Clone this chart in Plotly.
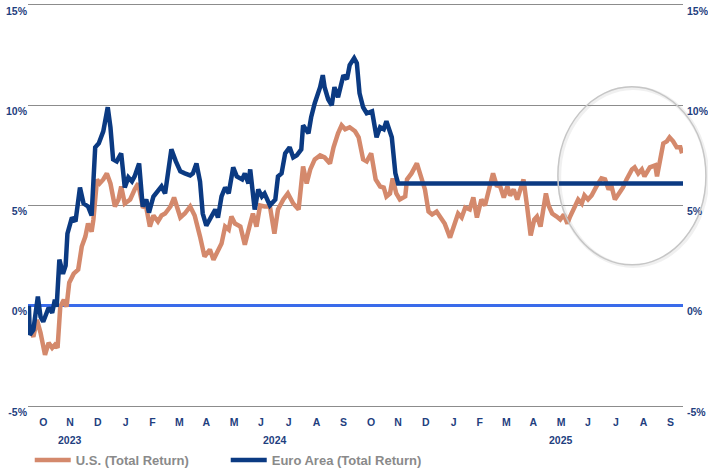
import plotly.graph_objects as go

# ---------------- data ----------------
euro_dates = ["2023-09-30","2023-10-01","2023-10-05","2023-10-10","2023-10-13","2023-10-16","2023-10-22","2023-10-26","2023-10-29","2023-10-31",
              "2023-11-03","2023-11-07","2023-11-10","2023-11-12","2023-11-17","2023-11-21","2023-11-26","2023-11-30","2023-12-05","2023-12-09",
              "2023-12-13","2023-12-17","2023-12-22","2023-12-27","2023-12-30","2024-01-02","2024-01-06","2024-01-11","2024-01-15","2024-01-19",
              "2024-01-23","2024-01-26","2024-01-31","2024-02-04","2024-02-08","2024-02-11","2024-02-16","2024-02-21","2024-02-25","2024-02-29",
              "2024-03-07","2024-03-12","2024-03-17","2024-03-22","2024-03-28","2024-03-31","2024-04-04","2024-04-08","2024-04-11","2024-04-15",
              "2024-04-21","2024-04-25","2024-04-28","2024-05-02","2024-05-06","2024-05-10","2024-05-15","2024-05-19","2024-05-25","2024-05-28",
              "2024-06-01","2024-06-03","2024-06-08","2024-06-12","2024-06-16","2024-06-19","2024-06-25","2024-07-01","2024-07-04","2024-07-08",
              "2024-07-12","2024-07-17","2024-07-21","2024-07-25","2024-07-30","2024-08-01","2024-08-07","2024-08-10","2024-08-14","2024-08-20",
              "2024-08-23","2024-08-25","2024-08-29","2024-09-02","2024-09-05","2024-09-09","2024-09-15","2024-09-19","2024-09-22","2024-09-27",
              "2024-09-30","2024-10-03","2024-10-07","2024-10-11","2024-10-17","2024-10-22","2024-10-26","2024-10-30","2024-11-02","2024-11-08",
              "2024-11-12","2024-11-15","2025-09-30"]
euro_values = [0.0,-1.45,-1.2,0.46,-0.55,-0.8,-0.1,-0.35,0.3,-0.05,
               2.3,1.6,2.0,3.6,4.4,4.2,5.9,5.1,4.95,4.5,
               7.9,8.1,8.7,9.9,8.9,7.3,7.2,7.6,5.9,6.4,
               6.2,6.45,7.1,4.95,5.3,4.65,5.45,5.7,5.95,5.6,
               7.8,7.2,6.7,6.6,6.5,6.6,7.1,6.2,4.6,4.0,
               4.45,4.8,4.4,5.45,5.9,5.6,6.9,6.45,6.3,6.6,
               6.1,6.8,4.8,5.8,5.45,5.6,5.0,5.3,6.45,6.6,
               7.6,7.9,7.4,7.5,7.8,9.0,8.6,9.4,10.1,10.9,
               11.5,10.9,10.3,10.0,10.9,10.4,11.5,11.3,12.0,12.35,
               12.1,10.6,9.9,9.6,9.7,8.4,8.9,8.8,9.2,8.4,
               6.6,6.1,6.1]

us_dates = ["2023-09-30","2023-10-05","2023-10-09","2023-10-13","2023-10-18","2023-10-22","2023-10-26","2023-10-29","2023-11-01","2023-11-04",
            "2023-11-08","2023-11-11","2023-11-14","2023-11-19","2023-11-24","2023-11-28","2023-12-02","2023-12-05","2023-12-09","2023-12-11",
            "2023-12-15","2023-12-18","2023-12-22","2023-12-26","2023-12-30","2024-01-04","2024-01-08","2024-01-11","2024-01-15","2024-01-21",
            "2024-01-26","2024-01-30","2024-02-04","2024-02-08","2024-02-12","2024-02-16","2024-02-21","2024-02-25","2024-02-29","2024-03-06",
            "2024-03-10","2024-03-17","2024-03-22","2024-03-28","2024-04-02","2024-04-06","2024-04-08","2024-04-13","2024-04-19","2024-04-23",
            "2024-04-28","2024-05-02","2024-05-06","2024-05-10","2024-05-13","2024-05-17","2024-05-23","2024-05-28","2024-06-03","2024-06-06",
            "2024-06-10","2024-06-14","2024-06-19","2024-06-25","2024-06-30","2024-07-04","2024-07-10","2024-07-15","2024-07-21","2024-07-27",
            "2024-08-01","2024-08-05","2024-08-09","2024-08-14","2024-08-20","2024-08-25","2024-08-31","2024-09-04","2024-09-09","2024-09-13",
            "2024-09-17","2024-09-22","2024-09-28","2024-10-02","2024-10-07","2024-10-11","2024-10-16","2024-10-21","2024-10-26","2024-10-30",
            "2024-11-02","2024-11-06","2024-11-09","2024-11-13","2024-11-17","2024-11-23","2024-11-25","2024-11-30","2024-12-06","2024-12-09",
            "2024-12-15","2024-12-19","2024-12-23","2024-12-28","2025-01-01","2025-01-06","2025-01-12","2025-01-16","2025-01-21","2025-01-25",
            "2025-01-29","2025-02-03","2025-02-07","2025-02-11","2025-02-16","2025-02-20","2025-02-26","2025-03-01","2025-03-05","2025-03-09",
            "2025-03-13","2025-03-17","2025-03-20","2025-03-24","2025-03-28","2025-04-01","2025-04-04","2025-04-08","2025-04-12","2025-04-16",
            "2025-04-19","2025-04-23","2025-04-29","2025-05-02","2025-05-06","2025-05-11","2025-05-15","2025-05-19","2025-05-23","2025-05-26",
            "2025-05-30","2025-06-04","2025-06-08","2025-06-11","2025-06-15","2025-06-19","2025-06-25","2025-06-30","2025-07-04","2025-07-08",
            "2025-07-11","2025-07-15","2025-07-21","2025-07-24","2025-07-28","2025-08-03","2025-08-06","2025-08-10","2025-08-14","2025-08-17",
            "2025-08-23","2025-08-29","2025-08-31","2025-09-03","2025-09-07","2025-09-11","2025-09-14","2025-09-18","2025-09-22","2025-09-26",
            "2025-09-28"]
us_values = [-1.0,-1.55,-0.7,-1.35,-2.45,-1.85,-2.1,-1.95,-2.1,-0.05,
             0.3,-0.05,1.15,1.6,1.8,2.95,3.45,4.1,3.7,4.3,
             6.3,6.1,6.3,6.6,6.1,4.95,5.3,5.95,5.1,5.3,
             5.8,6.1,4.95,4.9,3.95,4.5,4.2,4.5,4.6,4.95,
             5.4,4.4,4.6,4.95,4.5,3.9,3.45,2.45,2.8,2.3,
             2.7,3.1,3.95,3.8,4.45,4.1,3.95,3.05,4.1,4.6,
             3.95,5.0,4.95,4.95,3.6,4.8,5.3,5.6,5.1,4.8,
             6.95,6.1,6.8,7.3,7.5,7.4,7.1,7.9,8.6,9.0,
             8.8,8.9,8.7,8.4,7.3,7.2,7.6,6.3,5.95,5.9,
             5.45,5.6,6.35,5.6,5.3,5.45,6.3,6.6,7.1,6.6,
             5.8,4.7,4.55,4.7,4.4,4.1,3.4,3.95,4.6,4.4,
             4.9,4.8,5.4,4.4,5.3,5.0,6.1,6.6,6.0,5.95,
             5.4,5.95,5.5,5.8,5.3,5.95,6.3,4.95,3.5,4.3,
             4.45,3.95,5.6,5.0,4.6,4.45,4.3,4.55,4.1,4.45,
             4.8,5.3,5.1,5.5,5.3,5.5,6.0,6.35,6.3,5.8,
             6.0,5.3,5.7,5.9,6.3,6.8,6.9,6.6,6.8,6.45,
             6.9,7.0,6.45,7.3,8.1,8.2,8.4,8.2,7.9,7.9,
             7.6]

assert len(euro_dates) == len(euro_values)
assert len(us_dates) == len(us_values)

month_ticks = ["2023-10-16","2023-11-15","2023-12-16","2024-01-16","2024-02-15","2024-03-16","2024-04-15","2024-05-16",
               "2024-06-15","2024-07-16","2024-08-16","2024-09-15","2024-10-16","2024-11-15","2024-12-16","2025-01-16",
               "2025-02-14","2025-03-16","2025-04-15","2025-05-16","2025-06-15","2025-07-16","2025-08-16","2025-09-15"]
month_labels = ["O","N","D","J","F","M","A","M","J","J","A","S",
                "O","N","D","J","F","M","A","M","J","J","A","S"]
year_positions = ["2023-11-15", "2024-07-01", "2025-05-16"]
year_labels = ["2023", "2024", "2025"]

y_ticks = [-5, 0, 5, 10, 15]
y_labels = ["-5%", "0%", "5%", "10%", "15%"]

series_names = ["U.S. (Total Return)", "Euro Area (Total Return)"]

# ---------------- styling ----------------
US_COLOR = "#D4896C"
EURO_COLOR = "#0B3A82"
NAVY_TEXT = "#1F3F7F"
GRID = "#8C8C8C"
ZERO = "#3A6BEA"
FONT = "Liberation Sans, Arial, Helvetica, sans-serif"

fig = go.Figure()
fig.add_trace(go.Scatter(x=us_dates, y=us_values, mode="lines", name=series_names[0],
                         line=dict(color=US_COLOR, width=4.5)))
fig.add_trace(go.Scatter(x=euro_dates, y=euro_values, mode="lines", name=series_names[1],
                         line=dict(color=EURO_COLOR, width=4.5)))
# invisible trace so the mirrored right-hand axis is drawn
fig.add_trace(go.Scatter(x=us_dates, y=us_values, yaxis="y2", mode="lines",
                         line=dict(width=0), opacity=0, showlegend=False, hoverinfo="skip"))

tickfont = dict(family=FONT, size=10.5, color=NAVY_TEXT, weight="bold")

fig.update_layout(
    width=708, height=473,
    margin=dict(l=28, r=25, t=5, b=67),
    plot_bgcolor="white", paper_bgcolor="white",
    showlegend=True,
    legend=dict(orientation="h", xref="container", yref="container",
                x=0.042, y=1 - 460 / 473, xanchor="left", yanchor="middle",
                font=dict(family=FONT, size=13, color="#8A8A8A", weight="bold"),
                entrywidth=145, entrywidthmode="pixels", itemwidth=36,
                bgcolor="rgba(0,0,0,0)"),
    xaxis=dict(type="date", range=["2023-09-29", "2025-09-29"],
               tickmode="array", tickvals=month_ticks, ticktext=month_labels,
               tickfont=tickfont, showgrid=False, zeroline=False,
               showline=True, mirror=True, linecolor=GRID, linewidth=1, ticks="",
               ticklabelstandoff=6, automargin=False),
    yaxis=dict(range=[-5, 15], tickmode="array", tickvals=y_ticks, ticktext=y_labels,
               tickfont=tickfont, showgrid=True, gridcolor=GRID, gridwidth=1,
               zeroline=True, zerolinecolor=ZERO, zerolinewidth=2.5,
               ticks="", ticklabelshift=6, ticklabelstandoff=0, automargin=False),
    yaxis2=dict(range=[-5, 15], overlaying="y", side="right", anchor="x",
                tickmode="array", tickvals=y_ticks, ticktext=y_labels,
                tickfont=tickfont, showgrid=False, zeroline=False,
                ticks="", ticklabelshift=6, ticklabelstandoff=3, automargin=False),
)

for pos, txt in zip(year_positions, year_labels):
    fig.add_annotation(x=pos, xref="x", y=-0.085, yref="paper", text=txt,
                       showarrow=False, font=tickfont, yanchor="middle")

# highlight ellipse
fig.add_shape(type="circle", xref="paper", yref="paper",
              x0=0.811, x1=1.037, y0=0.349, y1=0.793,
              line=dict(color="rgba(0,0,0,0.06)", width=4), layer="below")
fig.add_shape(type="circle", xref="paper", yref="paper",
              x0=0.809, x1=1.035, y0=0.352, y1=0.796,
              line=dict(color="#C6C6C6", width=1.5))

fig.write_html("out.html", config={"displayModeBar": False},
               post_script="document.body.style.margin='0';")
